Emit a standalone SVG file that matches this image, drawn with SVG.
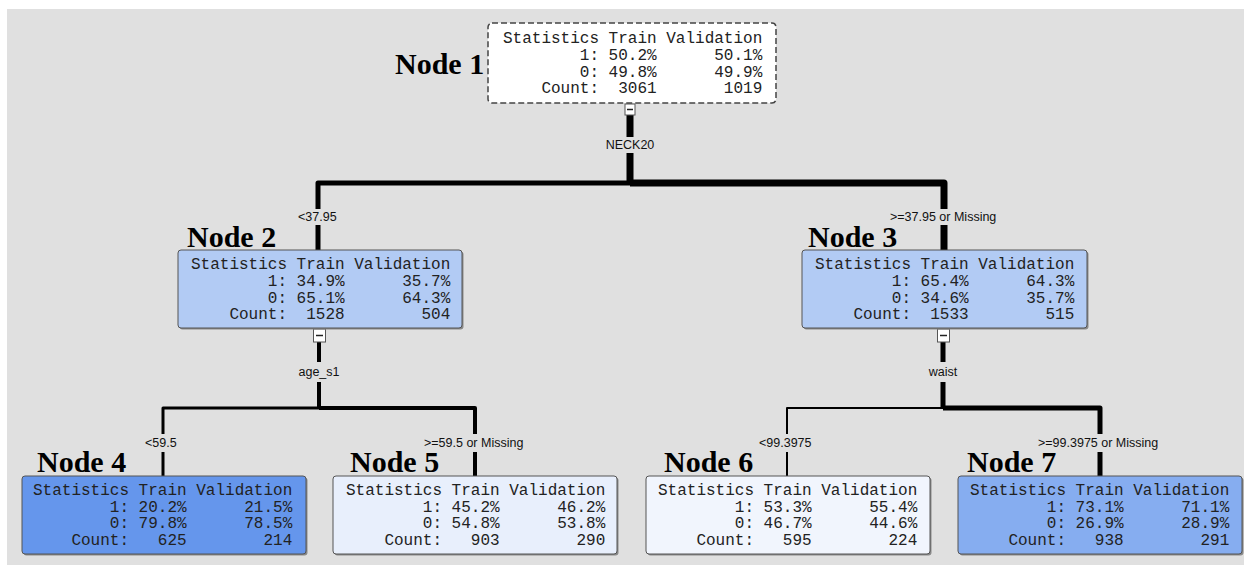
<svg xmlns="http://www.w3.org/2000/svg" width="1250" height="570" viewBox="0 0 1250 570">
<defs>
<style>
.bg{fill:#e0e0e0}
.box{stroke:#555;stroke-width:1}
.shadow{fill:#8a8a8a}
.stat{font-family:"Liberation Mono","Courier New",monospace;font-size:16px;fill:#222;white-space:pre}
.nlabel{font-family:"Liberation Serif","Times New Roman",serif;font-size:30px;font-weight:bold;fill:#000}
.elabel{font-family:"Liberation Sans",Arial,sans-serif;font-size:12.5px;fill:#111}
.ln{stroke:#000;fill:none;stroke-linecap:butt;stroke-linejoin:round}
.tog{fill:#fff;stroke:#555;stroke-width:1}
.togm{stroke:#222;stroke-width:1.5}
</style>
</defs>
<rect x="0" y="0" width="1250" height="570" fill="#fff"/>
<rect class="bg" x="7" y="9" width="1237" height="556"/>

<g id="connectors">
  <!-- NECK20 split -->
  <line class="ln" x1="630" y1="115" x2="630" y2="137" stroke-width="7"/>
  <line class="ln" x1="630" y1="153" x2="630" y2="183" stroke-width="7"/>
  <path class="ln" d="M630 183 H318 V209" stroke-width="5"/>
  <line class="ln" x1="318" y1="225" x2="318" y2="250" stroke-width="5"/>
  <path class="ln" d="M630 183 H944 V209" stroke-width="7"/>
  <line class="ln" x1="944" y1="225" x2="944" y2="250" stroke-width="7"/>
  <text class="elabel" x="630" y="149" text-anchor="middle">NECK20</text>
  <text class="elabel" x="298" y="221">&lt;37.95</text>
  <text class="elabel" x="890" y="221">&gt;=37.95 or Missing</text>
  <!-- age_s1 split -->
  <line class="ln" x1="319" y1="342" x2="319" y2="362" stroke-width="4"/>
  <line class="ln" x1="319" y1="382" x2="319" y2="408" stroke-width="4"/>
  <path class="ln" d="M319 408 H163 V434" stroke-width="3"/>
  <line class="ln" x1="163" y1="452" x2="163" y2="476" stroke-width="3"/>
  <path class="ln" d="M319 408 H475 V434" stroke-width="4"/>
  <line class="ln" x1="475" y1="452" x2="475" y2="476" stroke-width="4"/>
  <text class="elabel" x="319" y="376" text-anchor="middle">age_s1</text>
  <text class="elabel" x="145" y="447">&lt;59.5</text>
  <text class="elabel" x="424" y="447">&gt;=59.5 or Missing</text>
  <!-- waist split -->
  <line class="ln" x1="943" y1="342" x2="943" y2="362" stroke-width="5"/>
  <line class="ln" x1="943" y1="382" x2="943" y2="408" stroke-width="5"/>
  <path class="ln" d="M943 408 H787 V434" stroke-width="2"/>
  <line class="ln" x1="787" y1="452" x2="787" y2="476" stroke-width="2"/>
  <path class="ln" d="M943 408 H1100 V434" stroke-width="5"/>
  <line class="ln" x1="1100" y1="452" x2="1100" y2="476" stroke-width="5"/>
  <text class="elabel" x="943" y="376" text-anchor="middle">waist</text>
  <text class="elabel" x="759" y="447">&lt;99.3975</text>
  <text class="elabel" x="1038" y="447">&gt;=99.3975 or Missing</text>
  <!-- toggles -->
  <rect class="tog" x="625" y="104" width="10" height="11"/>
  <line class="togm" x1="627" y1="109.5" x2="633" y2="109.5"/>
  <rect class="tog" x="313.5" y="329" width="12" height="13"/>
  <line class="togm" x1="316" y1="335.5" x2="323" y2="335.5"/>
  <rect class="tog" x="937.5" y="329" width="12" height="13"/>
  <line class="togm" x1="940" y1="335.5" x2="947" y2="335.5"/>
</g>

<g id="node1">
  <rect x="488" y="23" width="288" height="80" rx="4" fill="#fff" stroke="#444" stroke-width="1.5" stroke-dasharray="6 3"/>
  <text class="nlabel" x="395" y="74">Node 1</text>
  <text class="stat" xml:space="preserve" x="503" y="43">Statistics Train Validation</text>
  <text class="stat" xml:space="preserve" x="503" y="60">        1: 50.2%      50.1%</text>
  <text class="stat" xml:space="preserve" x="503" y="77">        0: 49.8%      49.9%</text>
  <text class="stat" xml:space="preserve" x="503" y="93">    Count:  3061       1019</text>
</g>

<g id="node2">
  <rect class="shadow" x="179.5" y="251.5" width="284" height="78" rx="3"/>
  <rect class="box" x="178" y="250" width="284" height="78" rx="3" fill="#b2cbf4"/>
  <text class="nlabel" x="187" y="247">Node 2</text>
  <text class="stat" xml:space="preserve" x="191" y="269">Statistics Train Validation</text>
  <text class="stat" xml:space="preserve" x="191" y="286">        1: 34.9%      35.7%</text>
  <text class="stat" xml:space="preserve" x="191" y="303">        0: 65.1%      64.3%</text>
  <text class="stat" xml:space="preserve" x="191" y="319">    Count:  1528        504</text>
</g>

<g id="node3">
  <rect class="shadow" x="803.5" y="251.5" width="285" height="78" rx="3"/>
  <rect class="box" x="802" y="250" width="285" height="78" rx="3" fill="#b2cbf4"/>
  <text class="nlabel" x="808" y="247">Node 3</text>
  <text class="stat" xml:space="preserve" x="815" y="269">Statistics Train Validation</text>
  <text class="stat" xml:space="preserve" x="815" y="286">        1: 65.4%      64.3%</text>
  <text class="stat" xml:space="preserve" x="815" y="303">        0: 34.6%      35.7%</text>
  <text class="stat" xml:space="preserve" x="815" y="319">    Count:  1533        515</text>
</g>

<g id="node4">
  <rect class="shadow" x="23.5" y="477.5" width="284" height="78" rx="3"/>
  <rect class="box" x="22" y="476" width="284" height="78" rx="3" fill="#6596ec"/>
  <text class="nlabel" x="37" y="472">Node 4</text>
  <text class="stat" xml:space="preserve" x="33" y="495">Statistics Train Validation</text>
  <text class="stat" xml:space="preserve" x="33" y="512">        1: 20.2%      21.5%</text>
  <text class="stat" xml:space="preserve" x="33" y="528">        0: 79.8%      78.5%</text>
  <text class="stat" xml:space="preserve" x="33" y="545">    Count:   625        214</text>
</g>

<g id="node5">
  <rect class="shadow" x="334.5" y="477.5" width="284" height="78" rx="3"/>
  <rect class="box" x="333" y="476" width="284" height="78" rx="3" fill="#e8effc"/>
  <text class="nlabel" x="350" y="472">Node 5</text>
  <text class="stat" xml:space="preserve" x="346" y="495">Statistics Train Validation</text>
  <text class="stat" xml:space="preserve" x="346" y="512">        1: 45.2%      46.2%</text>
  <text class="stat" xml:space="preserve" x="346" y="528">        0: 54.8%      53.8%</text>
  <text class="stat" xml:space="preserve" x="346" y="545">    Count:   903        290</text>
</g>

<g id="node6">
  <rect class="shadow" x="647.5" y="477.5" width="284" height="78" rx="3"/>
  <rect class="box" x="646" y="476" width="284" height="78" rx="3" fill="#f1f5fd"/>
  <text class="nlabel" x="664" y="472">Node 6</text>
  <text class="stat" xml:space="preserve" x="658" y="495">Statistics Train Validation</text>
  <text class="stat" xml:space="preserve" x="658" y="512">        1: 53.3%      55.4%</text>
  <text class="stat" xml:space="preserve" x="658" y="528">        0: 46.7%      44.6%</text>
  <text class="stat" xml:space="preserve" x="658" y="545">    Count:   595        224</text>
</g>

<g id="node7">
  <rect class="shadow" x="959.5" y="477.5" width="284" height="78" rx="3"/>
  <rect class="box" x="958" y="476" width="284" height="78" rx="3" fill="#86adf0"/>
  <text class="nlabel" x="967" y="472">Node 7</text>
  <text class="stat" xml:space="preserve" x="970" y="495">Statistics Train Validation</text>
  <text class="stat" xml:space="preserve" x="970" y="512">        1: 73.1%      71.1%</text>
  <text class="stat" xml:space="preserve" x="970" y="528">        0: 26.9%      28.9%</text>
  <text class="stat" xml:space="preserve" x="970" y="545">    Count:   938        291</text>
</g>
</svg>
